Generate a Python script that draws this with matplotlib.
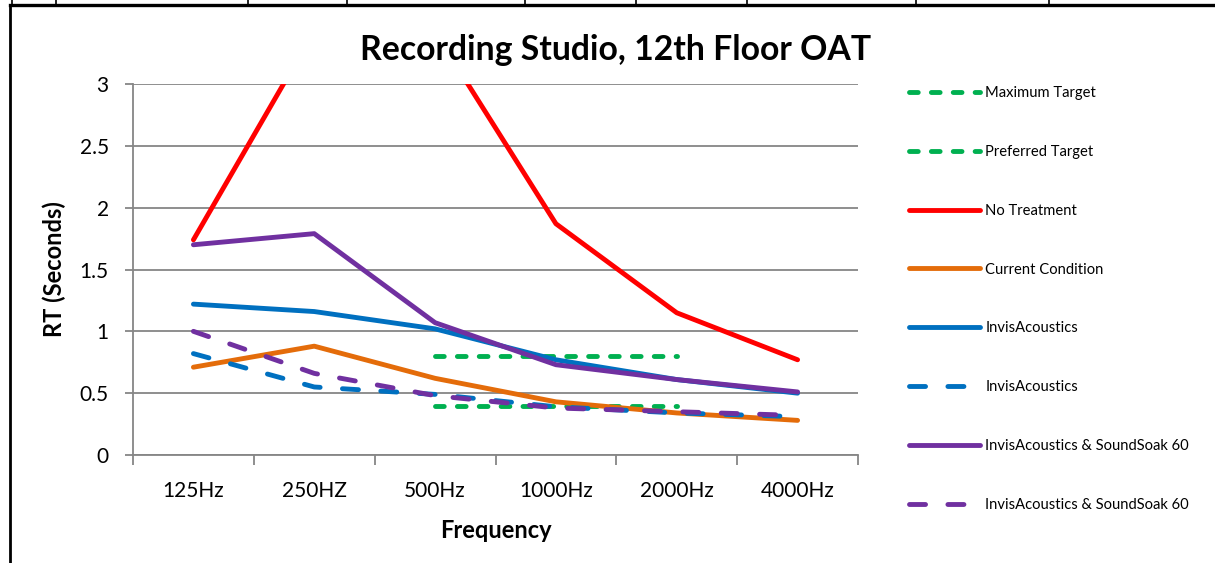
import numpy as np
import matplotlib
matplotlib.use("Agg")
import matplotlib.pyplot as plt
from matplotlib.lines import Line2D

plt.rcParams['font.family'] = ['Lato', 'DejaVu Sans']

categories = ["125Hz", "250HZ", "500Hz", "1000Hz", "2000Hz", "4000Hz"]
max_target = [np.nan, np.nan, 0.8, 0.8, 0.8, np.nan]
preferred_target = [np.nan, np.nan, 0.4, 0.4, 0.4, np.nan]
no_treatment = [1.74, 3.43, 3.42, 1.87, 1.15, 0.77]
current_condition = [0.71, 0.88, 0.62, 0.43, 0.34, 0.28]
invis_solid = [1.22, 1.16, 1.02, 0.77, 0.61, 0.50]
invis_dashed = [0.82, 0.55, 0.49, 0.39, 0.34, 0.31]
invis_ss_solid = [1.70, 1.79, 1.07, 0.73, 0.61, 0.51]
invis_ss_dashed = [1.00, 0.66, 0.48, 0.38, 0.35, 0.32]

labels = ["Maximum Target", "Preferred Target", "No Treatment", "Current Condition",
          "InvisAcoustics", "InvisAcoustics", "InvisAcoustics & SoundSoak 60",
          "InvisAcoustics & SoundSoak 60"]
colors = ["#00B050", "#00B050", "#FF0000", "#E46C0A", "#0070C0", "#0070C0", "#7030A0", "#7030A0"]
series = [max_target, preferred_target, no_treatment, current_condition,
          invis_solid, invis_dashed, invis_ss_solid, invis_ss_dashed]
styles = ["dot", "dot", "solid", "solid", "solid", "dash", "solid", "dash"]

W, H = 1215, 563
fig = plt.figure(figsize=(W / 100, H / 100), dpi=100)
ax = fig.add_axes([133 / W, 1 - 455 / H, (858 - 133) / W, (455 - 84) / H])

x = np.arange(len(categories))
lw = 3.5
for vals, lab, col, st in zip(series, labels, colors, styles):
    line, = ax.plot(x, vals, color=col, lw=lw, label=lab, solid_capstyle='round',
                    dash_capstyle='round', solid_joinstyle='round')
    if st == "dot":
        line.set_dashes([1.8, 2.7])
    elif st == "dash":
        line.set_dashes([3.3, 4.6])

ax.set_xlim(-0.5, len(categories) - 0.5)
ax.set_ylim(0, 3)
ax.set_yticks([0, 0.5, 1, 1.5, 2, 2.5, 3])
ax.set_yticklabels(["0", "0.5", "1", "1.5", "2", "2.5", "3"])
ax.set_xticks(np.arange(-0.5, len(categories), 1.0))
ax.set_xticklabels([])
ax.set_xticks(x, minor=True)
ax.set_xticklabels(categories, minor=True)
ax.tick_params(axis='x', which='major', length=7, width=1.3, color='#868686', direction='out')
ax.tick_params(axis='x', which='minor', length=0, pad=19, labelsize=15)
ax.tick_params(axis='y', length=5.5, width=1.3, color='#868686', direction='out', pad=12, labelsize=15)
ax.grid(axis='y', color='#868686', lw=1.3)
ax.set_axisbelow(True)
for s in ['top', 'right']:
    ax.spines[s].set_visible(False)
for s in ['left', 'bottom']:
    ax.spines[s].set_color('#868686')
    ax.spines[s].set_linewidth(1.3)

ax.set_xlabel("Frequency", fontsize=17, fontweight='bold', labelpad=13)
ax.set_ylabel("RT (Seconds)", fontsize=17, fontweight='bold', labelpad=10)
fig.text(616 / W, 1 - 50 / H, "Recording Studio, 12th Floor OAT", fontsize=24.3,
         fontweight='bold', ha='center', va='center')

leg = ax.legend(loc='upper left', bbox_to_anchor=(903 / W, 1 - 80 / H),
                bbox_transform=fig.transFigure, frameon=False, fontsize=10.6,
                handlelength=4.8, handletextpad=0.4, labelspacing=3.05, borderaxespad=0)

# surrounding frame / table borders
def fl(x0, y0, x1, y1, w):
    fig.add_artist(Line2D([x0 / W, x1 / W], [1 - y0 / H, 1 - y1 / H], color='black',
                          lw=w, transform=fig.transFigure))

fl(10.5, 4.5, W, 4.5, 2.4)
fl(10.5, 4.5, 10.5, H, 2.0)
for xv in [12, 56, 248, 347, 525, 636, 747, 916, 1049]:
    fl(xv, 0, xv, 4.5, 1.2)

fig.savefig("out.png", dpi=100)
